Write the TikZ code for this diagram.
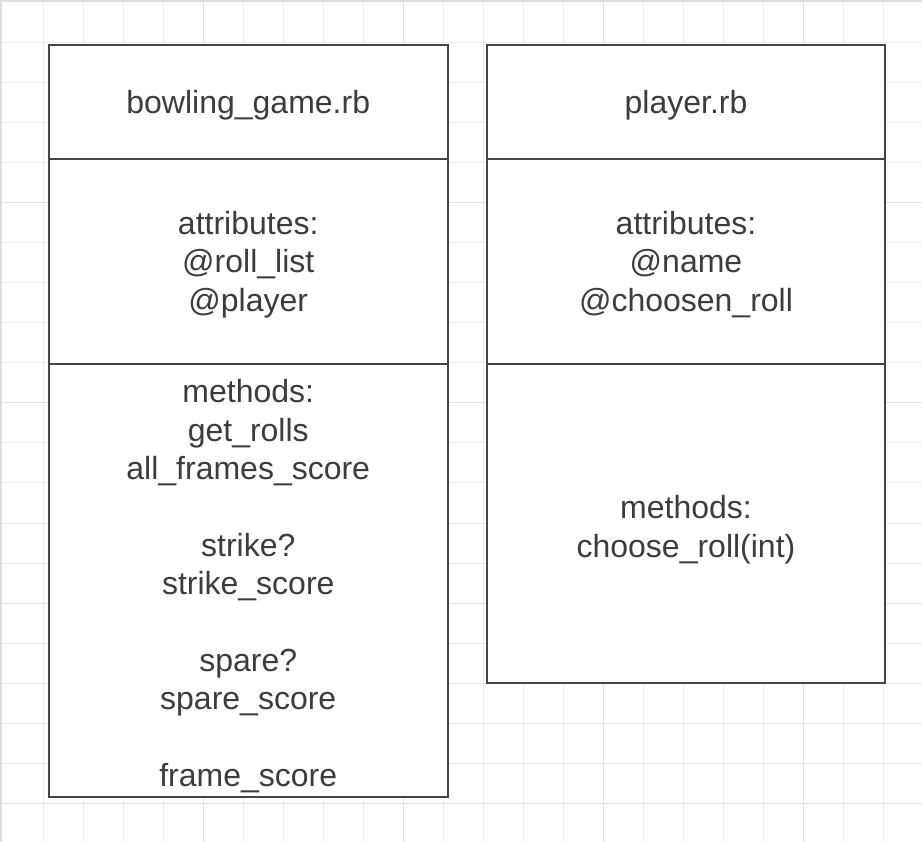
\documentclass[tikz,border=0pt]{standalone}
\usepackage{fontspec}
\setmainfont{Liberation Sans}
\newcommand\lstr{\rule[-8.1pt]{0pt}{38.4pt}}
\newcommand\mstr{\rule[-8.1pt]{0pt}{44.4pt}}
\definecolor{gridminor}{HTML}{EBEBEB}
\definecolor{gridmajor}{HTML}{E0E0E0}
\definecolor{gridborder}{HTML}{DCDCDC}
\definecolor{boxline}{HTML}{454545}
\definecolor{txt}{HTML}{3C3C3C}
\begin{document}
\begin{tikzpicture}[x=1pt,y=-1pt,
  cell/.style={draw=boxline, line width=2pt, fill=white, rectangle, inner sep=0pt,
    align=center, text=txt, font=\fontsize{32}{38.4}\selectfont, minimum width=398.5pt},
]
\useasboundingbox (0,0) rectangle (922,842);
% grid
\foreach \k in {43,83,...,883} \draw[gridminor, line width=1pt] (\k,0) -- (\k,842);
\foreach \k in {43,83,...,803} \draw[gridminor, line width=1pt] (0,\k) -- (922,\k);
\foreach \k in {203,403,603,803} {
  \draw[gridmajor, line width=1pt] (\k,0) -- (\k,842);
  \draw[gridmajor, line width=1pt] (0,\k) -- (922,\k);
}
\draw[gridborder, line width=2pt] (1,842) -- (1,1) -- (922,1);
% left class
\node[cell, minimum height=114pt] (bghead) at (248.25,102) {\lstr bowling\_game.rb};
\node[cell, minimum height=205.5pt] (bgattr) at (248.25,261.75)
  {\lstr attributes:\\@roll\_list\\@player\lstr};
\node[cell, minimum height=432pt] (bgmeth) at (248.25,580.5)
  {\mstr methods:\\get\_rolls\\all\_frames\_score\\[38.4pt]strike?\\strike\_score\\[38.4pt]spare?\\spare\_score\\[38.4pt]frame\_score\lstr};
% right class
\node[cell, minimum height=114pt, minimum width=398pt] (plhead) at (686,102) {\lstr player.rb};
\node[cell, minimum height=205.5pt, minimum width=398pt] (plattr) at (686,261.75)
  {\lstr attributes:\\@name\\@choosen\_roll\lstr};
\node[cell, minimum height=318.5pt, minimum width=398pt] (plmeth) at (686,523.75)
  {\mstr methods:\\choose\_roll(int)\lstr};
\end{tikzpicture}
\end{document}
